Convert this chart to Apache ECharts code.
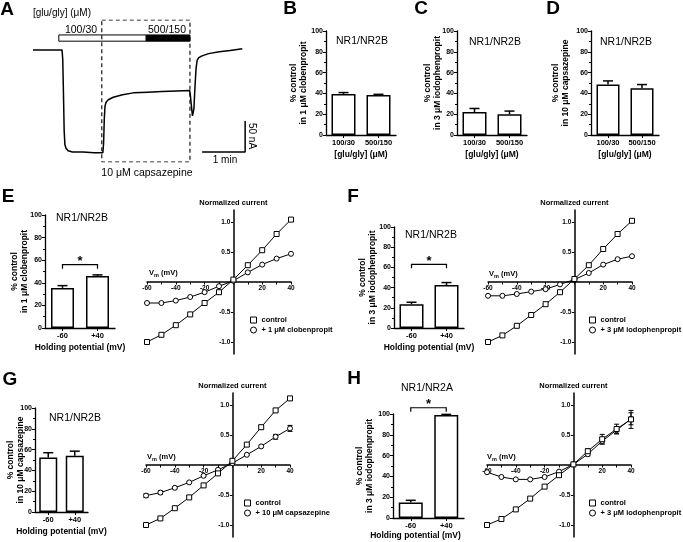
<!DOCTYPE html>
<html><head><meta charset="utf-8">
<script src="https://cdn.jsdelivr.net/npm/echarts@6/dist/echarts.min.js"></script>
<style>html,body{margin:0;padding:0;background:#fff}#c{width:683px;height:542px}</style>
</head><body><div id="c"></div>
<script>
// ---------- DATA ----------
// Panel A: current trace (time in s, current in nA)
const traceTime = [0, 40.5, 41.5, 42.5, 43.5, 44.5, 46, 49, 55, 70, 85, 97.5, 98.5, 99.5, 100.5, 102, 105, 112, 125, 140, 160, 180, 200, 218.5, 219.5, 221, 222.5, 223.5, 224.5, 226, 227.5, 229, 231, 235, 245, 260, 275, 292];
const traceCurrent = [0, 0, -15, -70, -130, -152, -158, -162, -164, -164, -165, -165, -150, -110, -90, -84, -80, -76, -72, -69, -68, -67, -66, -65, -72, -90, -106, -108, -95, -60, -30, -17, -13, -10, -6, -3, -1, 2];
const stimStart = [36, 158];      // s
const stimEnd = [158, 219];       // s
const stimFilled = [0, 1];
const stimLevel = [14, 24];       // nA (bar band)
const capsWindow = [96, 219];     // s
const scaleOrigin = [236, -164];  // s, nA
const scaleTime = 60;             // s  (1 min)
const scaleCurrent = 50;          // nA

// Panels B-D
const concCats = ['100/30', '500/150'];
const bMean = [39.5, 38.5], bErr = [1.3, 0.6];
const cMean = [22, 20],     cErr = [3.5, 3];
const dMean = [48.5, 45],   dErr = [3.5, 3.5];

// Panels E-H bars
const holdCats = ['-60', '+40'];
const eMean = [35.5, 46],   eErr = [2, 1];
const fMean = [23.5, 42.5], fErr = [2, 2.5];
const gMean = [52.5, 54],   gErr = [4.5, 4.5];
const hMean = [15, 99],     hErr = [2, 0.6];
const eSig = 56, fSig = 63, hSig = 106;

// I-V curves
const vm = [-60, -50, -40, -30, -20, -10, 0, 10, 20, 30, 40];
const ivTickLabels = [-1, -0.5, 0.5, 1];
const eControl = [-1.0, -0.88, -0.72, -0.54, -0.35, -0.17, 0.04, 0.28, 0.53, 0.8, 1.04];
const eClob    = [-0.35, -0.35, -0.31, -0.25, -0.17, -0.07, 0.02, 0.16, 0.29, 0.39, 0.47];
const fControl = [-1.0, -0.89, -0.73, -0.55, -0.37, -0.17, 0.05, 0.28, 0.55, 0.8, 1.02];
const fIodo    = [-0.23, -0.23, -0.2, -0.16, -0.12, -0.04, 0.04, 0.15, 0.29, 0.38, 0.43];
const gControl = [-1.0, -0.89, -0.72, -0.54, -0.34, -0.14, 0.07, 0.34, 0.63, 0.91, 1.11];
const gControlErr = [0.01, 0.01, 0.01, 0.01, 0.01, 0.03, 0.02, 0.02, 0.03, 0.03, 0.03];
const gCaps    = [-0.51, -0.46, -0.38, -0.29, -0.18, -0.08, 0.03, 0.17, 0.31, 0.47, 0.61];
const gCapsErr = [0.03, 0.03, 0.02, 0.01, 0.01, 0.01, 0.01, 0.01, 0.02, 0.04, 0.05];
const hControl = [-1.0, -0.9, -0.74, -0.56, -0.36, -0.17, 0.01, 0.23, 0.43, 0.6, 0.76];
const hControlErr = [0, 0, 0, 0, 0, 0, 0, 0.04, 0.08, 0.08, 0.15];
const hIodo    = [-0.12, -0.2, -0.24, -0.24, -0.2, -0.11, 0.01, 0.18, 0.4, 0.58, 0.77];
const hIodoErr = [0, 0, 0, 0, 0, 0, 0, 0.03, 0.05, 0.06, 0.1];

// ---------- BUILD ----------
const FONT = '"Liberation Sans", Arial, Helvetica, sans-serif';
const grids = [], xAxes = [], yAxes = [], series = [], legends = [], graphics = [];

function txt(x, y, text, font, o) {
  o = o || {};
  const el = {type: 'text', x: x, y: y, silent: true,
    style: {text: text, font: font + ' ' + FONT, fill: '#000', align: o.align || 'center', verticalAlign: o.va || 'middle'}};
  if (o.rot) el.rotation = o.rot;
  if (o.rich) el.style.rich = o.rich;
  graphics.push(el);
}

function renderBarErr(params, api) {
  const x = api.value(0), m = api.value(1), e = api.value(2);
  const p0 = api.coord([x, m]), p1 = api.coord([x, m + e]);
  const hw = 5;
  return {type: 'group', children: [
    {type: 'line', shape: {x1: p0[0], y1: p0[1], x2: p1[0], y2: p1[1]}, style: {stroke: '#000', lineWidth: 1.5}},
    {type: 'line', shape: {x1: p1[0] - hw, y1: p1[1], x2: p1[0] + hw, y2: p1[1]}, style: {stroke: '#000', lineWidth: 1.5}}
  ]};
}
function renderBracket(params, api) {
  const a = api.coord([api.value(0), api.value(2)]), b = api.coord([api.value(1), api.value(2)]);
  const t = 4;
  return {type: 'group', children: [
    {type: 'polyline', shape: {points: [[a[0], a[1] + t], [a[0], a[1]], [b[0], b[1]], [b[0], b[1] + t]]}, style: {stroke: '#000', fill: null, lineWidth: 1.2}},
    {type: 'text', style: {text: '*', x: (a[0] + b[0]) / 2, y: a[1] - 3, align: 'center', verticalAlign: 'middle', font: 'bold 13px ' + FONT, fill: '#000'}}
  ]};
}
function renderIVErr(params, api) {
  const e = api.value(2);
  if (!e) return null;
  const top = api.coord([api.value(0), api.value(1) + e]), bot = api.coord([api.value(0), api.value(1) - e]);
  const hw = 2.5;
  const st = {stroke: '#000', lineWidth: 1};
  return {type: 'group', children: [
    {type: 'line', shape: {x1: top[0], y1: top[1], x2: bot[0], y2: bot[1]}, style: st},
    {type: 'line', shape: {x1: top[0] - hw, y1: top[1], x2: top[0] + hw, y2: top[1]}, style: st},
    {type: 'line', shape: {x1: bot[0] - hw, y1: bot[1], x2: bot[0] + hw, y2: bot[1]}, style: st}
  ]};
}
function renderStim(params, api) {
  const p0 = api.coord([api.value(0), api.value(3)]), p1 = api.coord([api.value(1), api.value(2)]);
  return {type: 'rect', shape: {x: p0[0], y: p0[1], width: p1[0] - p0[0], height: p1[1] - p0[1]},
    style: {fill: api.value(4) ? '#000' : '#fff', stroke: '#000', lineWidth: 1}};
}

// ---- Panel A ----
(function () {
  const gi = grids.length;
  grids.push({left: 33, top: 20, width: 215, height: 142, outerBoundsMode: 'none'});
  xAxes.push({gridIndex: gi, type: 'value', min: 0, max: 300, show: false});
  yAxes.push({gridIndex: gi, type: 'value', min: -180, max: 48, show: false});
  const common = {xAxisIndex: gi, yAxisIndex: gi, silent: true, symbol: 'none', showSymbol: false};
  series.push(Object.assign({type: 'line', data: traceTime.map((t, i) => [t, traceCurrent[i]]),
    lineStyle: {color: '#000', width: 1.5}}, common));
  series.push(Object.assign({type: 'line', data: [[capsWindow[0], 48], [capsWindow[1], 48], [capsWindow[1], -180], [capsWindow[0], -180], [capsWindow[0], 48]],
    lineStyle: {color: '#000', width: 1.1, type: [4, 3]}}, common));
  series.push(Object.assign({type: 'line', data: [[scaleOrigin[0], scaleOrigin[1]], [scaleOrigin[0] + scaleTime, scaleOrigin[1]], [scaleOrigin[0] + scaleTime, scaleOrigin[1] + scaleCurrent]],
    lineStyle: {color: '#000', width: 1.5}}, common));
  series.push({type: 'custom', xAxisIndex: gi, yAxisIndex: gi, silent: true, clip: false,
    data: stimStart.map((s, i) => [s, stimEnd[i], stimLevel[0], stimLevel[1], stimFilled[i]]), renderItem: renderStim});
  txt(7, 10, 'A', 'bold 19px');
  txt(33, 13, '[glu/gly] (μM)', '10px', {align: 'left'});
  txt(81, 30, '100/30', '10.5px');
  txt(167, 30, '500/150', '10.5px');
  txt(147, 173, '10 μM capsazepine', '10.5px');
  txt(225, 160, '1 min', '10px');
  txt(252, 136, '50 nA', '10px', {rot: -Math.PI / 2});
})();

function barPanel(p) {
  const gi = grids.length;
  grids.push({left: p.left, top: p.top, width: p.width, height: p.height, outerBoundsMode: 'none'});
  xAxes.push({gridIndex: gi, type: 'category', data: p.cats,
    axisLine: {lineStyle: {color: '#000', width: 1.3}},
    axisTick: {show: true, alignWithLabel: true, interval: 0, length: 3, lineStyle: {color: '#000', width: 1}},
    axisLabel: {color: '#000', fontFamily: FONT, fontSize: 7.5, fontWeight: 'bold', margin: 4, interval: 0, hideOverlap: false},
    name: p.xName, nameLocation: 'middle', nameGap: p.xGap, nameMoveOverlap: false,
    nameTextStyle: {color: '#000', fontFamily: FONT, fontSize: 8.5, fontWeight: 'bold', padding: p.xPad || 0}});
  yAxes.push({gridIndex: gi, type: 'value', min: 0, max: 100, interval: 20,
    axisLine: {show: true, lineStyle: {color: '#000', width: 1.3}},
    axisTick: {show: true, length: 3, lineStyle: {color: '#000', width: 1}},
    minorTick: {show: true, splitNumber: 2, length: 2, lineStyle: {color: '#000', width: 1}},
    splitLine: {show: false},
    axisLabel: {color: '#000', fontFamily: FONT, fontSize: 7, fontWeight: 'bold', margin: 3},
    name: p.yName, nameLocation: 'middle', nameRotate: 90, nameGap: p.yGap, nameMoveOverlap: false,
    nameTextStyle: {color: '#000', fontFamily: FONT, fontSize: 8.5, fontWeight: 'bold', lineHeight: 10}});
  series.push({type: 'bar', xAxisIndex: gi, yAxisIndex: gi, data: p.mean, barWidth: p.barWidth, silent: true,
    itemStyle: {color: '#fff', borderColor: '#000', borderWidth: 1.5}});
  series.push({type: 'custom', xAxisIndex: gi, yAxisIndex: gi, silent: true, clip: false, z: 3,
    data: p.mean.map((m, i) => [i, m, p.err[i]]), renderItem: renderBarErr});
  if (p.sig != null) {
    series.push({type: 'custom', xAxisIndex: gi, yAxisIndex: gi, silent: true, clip: false, z: 3,
      data: [[0, 1, p.sig]], renderItem: renderBracket});
  }
  txt(p.titleX, p.titleY, p.title, '10.5px');
}

function ivPanel(p) {
  const gi = grids.length;
  const W = 144, H = 144;
  grids.push({left: p.left, top: p.top, width: W, height: H, outerBoundsMode: 'none'});
  // axes cross at the origin: shift them from the grid edges to the zero values
  const xMin = -60, xMax = 40, yMin = -1.2, yMax = 1.2;
  const yAxisShift = -W * (0 - xMin) / (xMax - xMin);
  const xAxisShift = -H * (0 - yMin) / (yMax - yMin);
  xAxes.push({gridIndex: gi, type: 'value', min: xMin, max: xMax, interval: 10, position: 'bottom', offset: xAxisShift,
    axisLine: {onZero: false, lineStyle: {color: '#000', width: 1.5}},
    axisTick: {show: true, length: 2.5, lineStyle: {color: '#000', width: 1}},
    splitLine: {show: false},
    axisLabel: {color: '#000', fontFamily: FONT, fontSize: 6.5, fontWeight: 'bold', margin: 3,
      formatter: v => (v !== 0 && v % 20 === 0) ? String(v) : ''}});
  yAxes.push({gridIndex: gi, type: 'value', min: yMin, max: yMax, position: 'left', offset: yAxisShift,
    axisLine: {show: true, onZero: false, lineStyle: {color: '#000', width: 1.5}},
    axisTick: {show: true, length: 2.5, customValues: ivTickLabels, lineStyle: {color: '#000', width: 1}},
    splitLine: {show: false},
    axisLabel: {color: '#000', fontFamily: FONT, fontSize: 6.5, fontWeight: 'bold', margin: 3,
      customValues: ivTickLabels, formatter: v => v.toFixed(1)},
    name: 'Normalized current', nameLocation: 'end', nameGap: 3, nameMoveOverlap: false,
    nameTextStyle: {color: '#000', fontFamily: FONT, fontSize: 7.5, fontWeight: 'bold', align: 'center'}});
  const mk = (name, vals, sym) => ({type: 'line', name: name, xAxisIndex: gi, yAxisIndex: gi, silent: true,
    data: vm.map((v, i) => [v, vals[i]]), symbol: sym, symbolSize: 5, showSymbol: true,
    lineStyle: {color: '#000', width: 1}, itemStyle: {color: '#fff', borderColor: '#000', borderWidth: 1}, z: 4});
  if (p.ctrlErr) series.push({type: 'custom', xAxisIndex: gi, yAxisIndex: gi, silent: true, clip: false, z: 3,
    data: vm.map((v, i) => [v, p.ctrl[i], p.ctrlErr[i]]), renderItem: renderIVErr});
  if (p.trtErr) series.push({type: 'custom', xAxisIndex: gi, yAxisIndex: gi, silent: true, clip: false, z: 3,
    data: vm.map((v, i) => [v, p.trt[i], p.trtErr[i]]), renderItem: renderIVErr});
  series.push(mk(p.trtName, p.trt, 'circle'));
  series.push(mk('control', p.ctrl, 'rect'));
  legends.push({left: p.legLeft, top: p.legTop, orient: 'vertical', itemWidth: 6, itemHeight: 6, itemGap: 0,
    selectedMode: false, padding: 0,
    itemStyle: {color: '#fff', borderColor: '#000', borderWidth: 1},
    textStyle: {color: '#000', fontFamily: FONT, fontSize: 7.5, fontWeight: 'bold', lineHeight: 10},
    data: [{name: 'control', icon: 'rect'}, {name: p.trtName, icon: 'circle'}]});
  txt(p.vmX, p.vmY, '{a|V}{b|m}{a| (mV)}', 'bold 7.5px', {align: 'left',
    rich: {a: {fontFamily: FONT, fontSize: 7.5, fontWeight: 'bold', fill: '#000'},
           b: {fontFamily: FONT, fontSize: 5.5, fontWeight: 'bold', fill: '#000', padding: [4, 0, 0, 0]}}});
}

barPanel({left: 326, top: 31, width: 70, height: 104, cats: concCats, mean: bMean, err: bErr, barWidth: 24,
  xName: '[glu/gly] (μM)', xGap: 15, yName: '% control\nin 1 μM clobenpropit', yGap: 17,
  title: 'NR1/NR2B', titleX: 362, titleY: 41});
barPanel({left: 457, top: 31, width: 70, height: 104, cats: concCats, mean: cMean, err: cErr, barWidth: 24,
  xName: '[glu/gly] (μM)', xGap: 15, yName: '% control\nin 3 μM iodophenpropit', yGap: 14,
  title: 'NR1/NR2B', titleX: 495, titleY: 42});
barPanel({left: 591, top: 31, width: 68, height: 104, cats: concCats, mean: dMean, err: dErr, barWidth: 23,
  xName: '[glu/gly] (μM)', xGap: 15, yName: '% control\nin 10 μM capsazepine', yGap: 20,
  title: 'NR1/NR2B', titleX: 626, titleY: 42});
barPanel({left: 45, top: 215, width: 70, height: 113, cats: holdCats, mean: eMean, err: eErr, barWidth: 23,
  xName: 'Holding potential (mV)', xGap: 15, yName: '% control\nin 1 μM clobenpropit', yGap: 15, sig: eSig,
  title: 'NR1/NR2B', titleX: 82, titleY: 218});
barPanel({left: 394, top: 227, width: 70, height: 101, cats: holdCats, mean: fMean, err: fErr, barWidth: 24,
  xName: 'Holding potential (mV)', xGap: 15, yName: '% control\nin 3 μM iodophenpropit', yGap: 16, sig: fSig,
  title: 'NR1/NR2B', titleX: 431, titleY: 235});
barPanel({left: 35, top: 408, width: 53, height: 104, cats: holdCats, mean: gMean, err: gErr, barWidth: 18,
  xName: 'Holding potential (mV)', xGap: 15, yName: '% control\nin 10 μM capsazepine', yGap: 9,
  title: 'NR1/NR2B', titleX: 75, titleY: 418});
barPanel({left: 393, top: 414, width: 71, height: 104, cats: holdCats, mean: hMean, err: hErr, barWidth: 24,
  xName: 'Holding potential (mV)', xGap: 13, xPad: [0, 26, 0, 0], yName: '% control\nin 3 μM iodophenpropit', yGap: 18, sig: hSig,
  title: 'NR1/NR2A', titleX: 427, titleY: 388});

ivPanel({left: 147, top: 210, ctrl: eControl, trt: eClob, trtName: '+ 1 μM clobenpropit', legLeft: 250, legTop: 315, vmX: 149, vmY: 273});
ivPanel({left: 488, top: 210, ctrl: fControl, trt: fIodo, trtName: '+ 3 μM iodophenpropit', legLeft: 589, legTop: 315, vmX: 489, vmY: 274});
ivPanel({left: 146, top: 393, ctrl: gControl, trt: gCaps, ctrlErr: gControlErr, trtErr: gCapsErr, trtName: '+ 10 μM capsazepine', legLeft: 244, legTop: 498, vmX: 147, vmY: 457});
ivPanel({left: 487, top: 393, ctrl: hControl, trt: hIodo, ctrlErr: hControlErr, trtErr: hIodoErr, trtName: '+ 3 μM iodophenpropit ', legLeft: 589, legTop: 498, vmX: 487, vmY: 457});

txt(290, 9, 'B', 'bold 19px');
txt(421, 9, 'C', 'bold 19px');
txt(553, 9, 'D', 'bold 19px');
txt(8, 197, 'E', 'bold 19px');
txt(353, 197, 'F', 'bold 19px');
txt(10, 380, 'G', 'bold 19px');
txt(354, 379, 'H', 'bold 19px');

const chart = echarts.init(document.getElementById('c'), null, {renderer: 'canvas'});
chart.setOption({
  animation: false,
  backgroundColor: '#fff',
  grid: grids, xAxis: xAxes, yAxis: yAxes, series: series, legend: legends, graphic: graphics
});
</script>
</body></html>
